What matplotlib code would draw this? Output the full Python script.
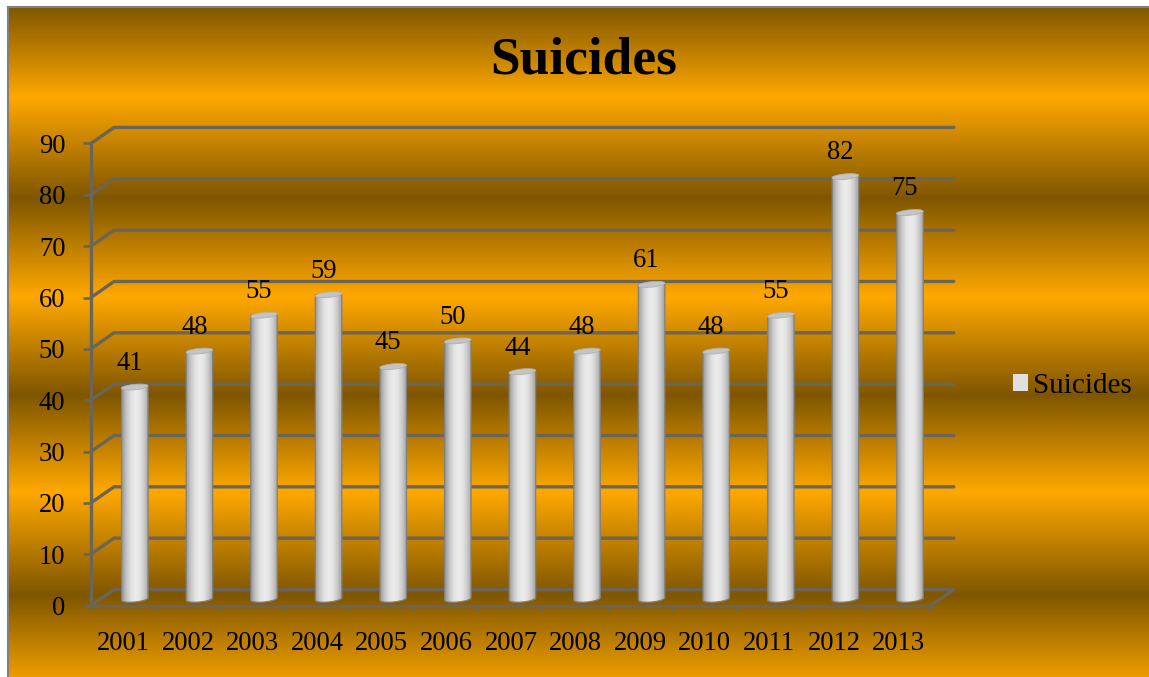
import numpy as np
import matplotlib
matplotlib.use("Agg")
from matplotlib import pyplot as plt
from matplotlib.colors import LinearSegmentedColormap
from matplotlib.patches import Patch, Polygon

years = ['2001', '2002', '2003', '2004', '2005', '2006', '2007',
         '2008', '2009', '2010', '2011', '2012', '2013']
suicides = [41, 48, 55, 59, 45, 50, 44, 48, 61, 48, 55, 82, 75]
y_ticks = [0, 10, 20, 30, 40, 50, 60, 70, 80, 90]

W, H = 1149, 677
plt.rcParams['font.family'] = ['Liberation Serif', 'DejaVu Serif']

fig = plt.figure(figsize=(W / 100, H / 100), dpi=100, facecolor='white')

# background stripes, orange and brown
bg = fig.add_axes([8 / W, 0, 1 - 8 / W, 1 - 7 / H])
bg_cmap = LinearSegmentedColormap.from_list('bg', ['#7f5600', '#ffa800'])
py = np.arange(7, H) + 0.5
stops_y = [7, 97, 198, 297, 395, 492, 595, 690]
stops_v = [0, 1, 0, 1, 0, 1, 0, 1]
bg_vals = np.interp(py, stops_y, stops_v)
bg.imshow(bg_vals[:, None], aspect='auto', cmap=bg_cmap, vmin=0, vmax=1,
          extent=(0, 1, 0, 1), origin='upper', interpolation='bilinear')
bg.set_xticks([])
bg.set_yticks([])
for s in ['right', 'bottom']:
    bg.spines[s].set_visible(False)
for s in ['left', 'top']:
    bg.spines[s].set_color('#808080')
    bg.spines[s].set_linewidth(1.5)

# main axes is the front plane of the fake 3d box
ax = fig.add_axes([91 / W, (H - 605.5) / H, 13 * 64.6 / W, 462 / H])
ax.patch.set_alpha(0)
px_x = 64.6
px_y = 462 / 90
dx = 23 / px_x
dy = 16 / px_y
grid_col = '#6b6557'
lw = 2.4

for v in y_ticks:
    ax.plot([0, dx, 13 + dx], [v, v + dy, v + dy], color=grid_col, lw=lw,
            clip_on=False, zorder=1, solid_capstyle='round')
ax.plot([13, 13 + dx], [0, dy], color=grid_col, lw=lw, clip_on=False, zorder=1)

# cylinders
bar_cmap = LinearSegmentedColormap.from_list(
    'cyl', ['#9a9a9a', '#c6c6c6', '#e2e2e2', '#ececec', '#e4e4e4', '#cacaca', '#a0a0a0'])
shade = np.linspace(0, 1, 64)[None, :]
bar_w = 26.5 / px_x
cap_h = 3 / px_y
tilt = 1.2 / px_y
t = np.linspace(0, np.pi, 30)

for i, v in enumerate(suicides):
    cx = i + 0.5 + 11.5 / px_x
    base = dy / 2 - 1.5 / px_y
    top = v + dy / 2
    left = cx - bar_w / 2
    right = cx + bar_w / 2
    ex = bar_w / 2 * np.cos(t)

    # body outline: flat at the top, rounded at the bottom
    bx = np.r_[left, right, cx + ex]
    by = np.r_[top, top, base - cap_h * np.sin(t) + tilt * np.cos(t)]
    im = ax.imshow(shade, aspect='auto', cmap=bar_cmap, vmin=0, vmax=1,
                   extent=(left, right, base - 2 * cap_h, top + cap_h),
                   zorder=3, interpolation='bilinear')
    clip = Polygon(np.c_[bx, by], closed=True, transform=ax.transData)
    im.set_clip_box(fig.bbox)
    im.set_clip_path(clip)
    ax.add_patch(Polygon(np.c_[bx, by], closed=True, fill=False, ec='#808080',
                         lw=0.9, clip_on=False, zorder=4))

    # top cap
    th = np.linspace(0, 2 * np.pi, 50)
    capx = cx + bar_w / 2 * np.cos(th)
    capy = top + cap_h * 0.9 * np.sin(th) + tilt * np.cos(th)
    ax.add_patch(Polygon(np.c_[capx, capy], closed=True, fc='#c4c4c4', ec='#b0b0b0',
                         lw=0.6, clip_on=False, zorder=5))

    ax.annotate(str(v), (cx, top), xytext=(-3.6, 17), textcoords='offset points',
                ha='center', va='center', fontsize=19.2, color='black',
                annotation_clip=False, zorder=6)

ax.set_xlim(0, 13)
ax.set_ylim(0, 90)

ax.set_xticks(np.arange(13) + 0.5)
ax.set_xticklabels(years)
ax.set_xticks(np.arange(14), minor=True)
ax.tick_params(axis='x', which='major', length=0, pad=18, labelsize=19.2)
ax.tick_params(axis='x', which='minor', length=3.5, width=1.6, color=grid_col)
ax.set_yticks(y_ticks)
ax.tick_params(axis='y', length=6, width=1.9, color=grid_col, pad=12.5, labelsize=19.2)

for s in ['top', 'right']:
    ax.spines[s].set_visible(False)
for s in ['left', 'bottom']:
    ax.spines[s].set_color(grid_col)
    ax.spines[s].set_linewidth(lw)

fig.text(583.5 / W, 1 - 60 / H, 'Suicides', ha='center', va='center',
         fontsize=38.5, fontweight='bold', color='black')

fig.legend(handles=[Patch(fc='#e0e0e0', ec='none', label='Suicides')],
           loc='center left', bbox_to_anchor=(993 / W, 1 - 386 / H),
           frameon=False, fontsize=21, handlelength=0.5, handleheight=0.5,
           handletextpad=0.18, borderpad=0.2)

fig.savefig('out.png', dpi=100)
